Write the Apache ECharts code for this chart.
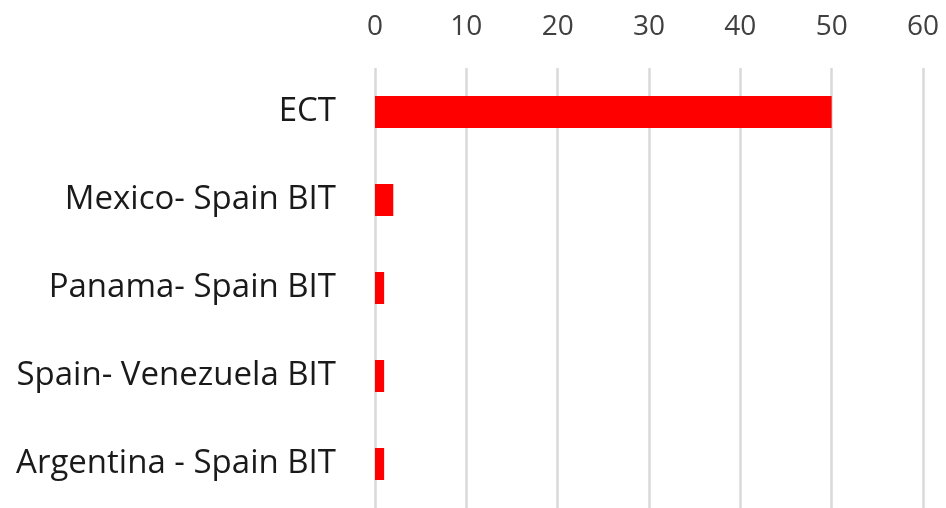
<!DOCTYPE html>
<html>
<head>
<meta charset="utf-8">
<script src="https://cdn.jsdelivr.net/npm/echarts@6/dist/echarts.min.js"></script>
<style>
  html, body { margin: 0; padding: 0; background: #fff; }
  #chart { width: 946px; height: 508px; }
</style>
</head>
<body>
<div id="chart"></div>
<script>
// categories, top to bottom
var categories = ['ECT', 'Mexico- Spain BIT', 'Panama- Spain BIT', 'Spain- Venezuela BIT', 'Argentina - Spain BIT'];
var values = [50, 2, 1, 1, 1];
var xTicks = { min: 0, max: 60, interval: 10 };

var myChart = echarts.init(document.getElementById('chart'));

var option = {
    animation: false,
    grid: {
        left: 375,
        right: 23,
        top: 68,
        height: 447
    },
    xAxis: {
        type: 'value',
        position: 'top',
        min: xTicks.min,
        max: xTicks.max,
        interval: xTicks.interval,
        axisLine: { show: false },
        axisTick: { show: false },
        axisLabel: {
            color: '#404040',
            fontFamily: 'Open Sans',
            fontSize: 28,
            lineHeight: 28,
            margin: 27
        },
        // gridlines
        splitLine: {
            lineStyle: { color: '#d9d9d9', width: 2.5 }
        }
    },
    yAxis: {
        type: 'category',
        inverse: true,
        data: categories,
        axisLine: { show: false },
        axisTick: { show: false },
        axisLabel: {
            color: '#1a1a1a',
            fontFamily: 'Open Sans',
            fontSize: 33,
            margin: 39
        }
    },
    series: [{
        type: 'bar',
        data: values,
        barWidth: 32,
        itemStyle: { color: '#ff0000' }
    }]
};

myChart.setOption(option);
</script>
</body>
</html>
